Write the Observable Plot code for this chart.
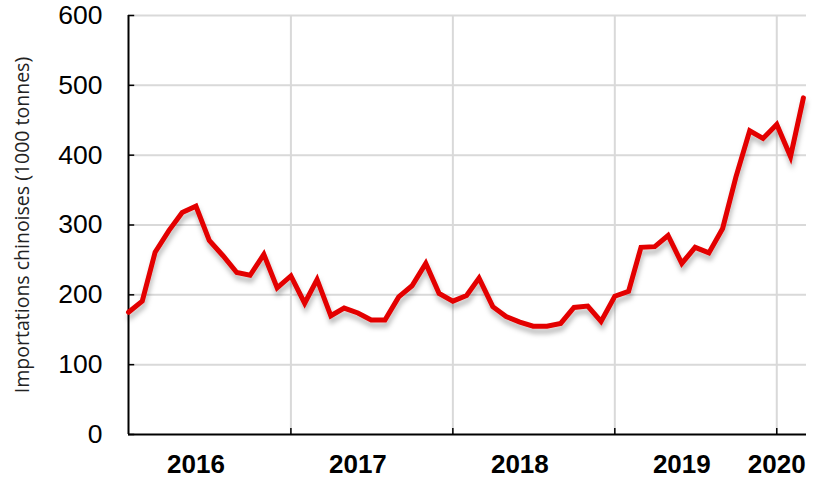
<!DOCTYPE html>
<html>
<head>
<meta charset="utf-8">
<script src="https://cdn.jsdelivr.net/npm/d3@7"></script>
<script src="https://cdn.jsdelivr.net/npm/@observablehq/plot@0.6"></script>
<style>
  body { margin: 0; background: #fff; }
  #chart svg { display: block; }
</style>
</head>
<body>
<div id="chart"></div>
<script>
// Monthly Chinese imports (1000 tonnes), Jan 2016 – Mar 2020
const startMonth = "2016-01";
const imports = [
  175, 191, 261, 292, 318, 327, 278, 256, 232, 228, 258, 210,
  227, 188, 222, 170, 181, 174, 164, 164, 197, 213, 245, 202,
  191, 199, 224, 183, 169, 161, 155, 155, 159, 182, 184, 162,
  198, 205, 268, 269, 285, 245, 268, 260, 295, 369, 435, 424,
  444, 398, 482
];
const yTicks = [0, 100, 200, 300, 400, 500, 600];
const yearLabels = ["2016", "2017", "2018", "2019", "2020"];
const yearBoundaries = ["2017", "2018", "2019", "2020"];
const yLabel = "Importations chinoises (1000 tonnes)";

const parseMonth = d3.utcParse("%Y-%m");
const parseYear = d3.utcParse("%Y");
const t0 = parseMonth(startMonth);
const data = imports.map((v, i) => ({date: d3.utcMonth.offset(t0, i), value: v}));
const xStart = t0;
const xEnd = d3.utcDay.offset(data[data.length - 1].date, 7);

const boundaries = yearBoundaries.map(parseYear);
const labels = yearLabels.map(y => {
  const ys = parseYear(y);
  const ye = d3.utcYear.offset(ys, 1);
  const full = ye <= xEnd;
  return {text: y, date: full ? d3.utcMonth.offset(ys, 5) : ys};
});

const font = "Liberation Sans, Arial, sans-serif";

const chart = Plot.plot({
  width: 820,
  height: 488,
  marginLeft: 128,
  marginRight: 14,
  marginTop: 15,
  marginBottom: 54,
  x: {type: "utc", domain: [xStart, xEnd], axis: null},
  y: {domain: [0, 600], axis: null},
  marks: [
    // gridlines
    Plot.ruleY(yTicks.filter(d => d > 0), {stroke: "#d9d9d9", strokeWidth: 2}),
    Plot.ruleX(boundaries, {y1: 0, y2: 600, stroke: "#d9d9d9", strokeWidth: 2}),
    // axis lines
    Plot.ruleY([0], {stroke: "#000", strokeWidth: 2}),
    Plot.ruleX([xStart], {y1: 0, y2: 600, stroke: "#000", strokeWidth: 2}),
    // short inward y ticks
    Plot.ruleY(yTicks, {x1: xStart, x2: d3.utcDay.offset(xStart, 14), stroke: "#000", strokeWidth: 1.5}),
    // y tick labels
    Plot.text(yTicks, {y: d => d, frameAnchor: "left", dx: -26, textAnchor: "end", text: d => String(d), fontSize: 26.5, fontFamily: font, fill: "#000"}),
    // short upward x ticks
    Plot.ruleX(boundaries, {y1: 0, y2: 8.5, stroke: "#000", strokeWidth: 1.5}),
    // year labels
    Plot.text(labels, {x: "date", frameAnchor: "bottom", dy: 38, text: "text", fontSize: 26, fontWeight: "bold", fontFamily: font, fill: "#000"}),
    // y-axis title
    Plot.text([yLabel], {frameAnchor: "left", dx: -106, rotate: -90, textAnchor: "middle", text: d => d, fontSize: 19.5, fontFamily: "Open Sans, sans-serif", fill: "#222"}),
    // the line
    Plot.line(data, {x: "date", y: "value", stroke: "#e30000", strokeWidth: 5, strokeLinejoin: "miter", strokeMiterlimit: 4})
  ]
});

// drop shadow on the line
(function () {
  const ns = "http://www.w3.org/2000/svg";
  const defs = document.createElementNS(ns, "defs");
  defs.innerHTML = `<filter id="lineShadow" x="-10%" y="-10%" width="120%" height="130%">
      <feGaussianBlur in="SourceAlpha" stdDeviation="2.5" result="b"/>
      <feOffset in="b" dx="1" dy="5" result="o"/>
      <feFlood flood-color="#000" flood-opacity="0.28"/>
      <feComposite in2="o" operator="in" result="s"/>
      <feMerge><feMergeNode in="s"/><feMergeNode in="SourceGraphic"/></feMerge>
    </filter>`;
  chart.insertBefore(defs, chart.firstChild);
  const lineG = chart.querySelector('g[aria-label="line"]');
  if (lineG) lineG.setAttribute("filter", "url(#lineShadow)");
})();

document.getElementById("chart").appendChild(chart);
</script>
</body>
</html>
